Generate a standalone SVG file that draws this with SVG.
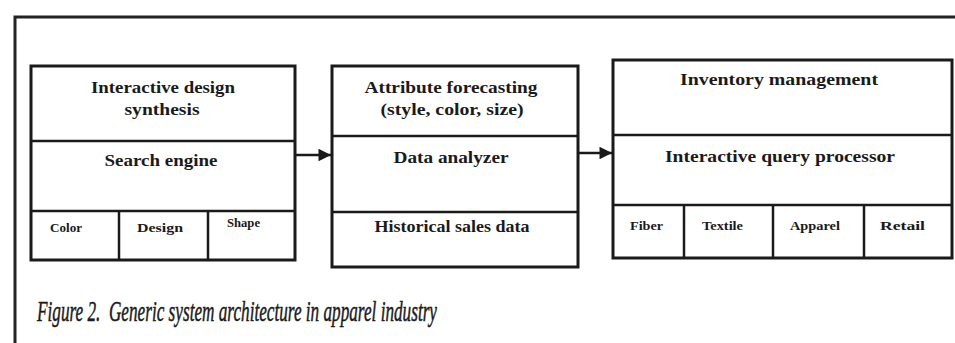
<svg xmlns="http://www.w3.org/2000/svg" width="955" height="343" viewBox="0 0 955 343">
  <style>
    .frame { fill: none; stroke: #222; stroke-width: 3; }
    .box { fill: #fff; stroke: #1a1a1a; stroke-width: 3; }
    .div { stroke: #1a1a1a; stroke-width: 2.5; }
    .lbl { font-family: "Liberation Serif", "Times New Roman", serif; font-weight: bold; font-size: 16px; fill: #1a1a1a; text-anchor: middle; }
    .sm { font-family: "Liberation Serif", "Times New Roman", serif; font-weight: bold; font-size: 12px; fill: #1a1a1a; }
    .cap { font-family: "Liberation Serif", "Times New Roman", serif; font-style: italic; font-size: 30px; fill: #1a1a1a; stroke: #1a1a1a; stroke-width: 0.5; }
    .conn { stroke: #1a1a1a; stroke-width: 2.5; fill: none; }
  </style>
  <defs>
    <marker id="arrow" viewBox="0 0 10 10" refX="10" refY="5" markerWidth="5.5" markerHeight="5" markerUnits="strokeWidth" orient="auto">
      <path d="M0,0 L10,5 L0,10 z" fill="#1a1a1a"/>
    </marker>
  </defs>
  <rect width="955" height="343" fill="#fff"/>

  <!-- page frame -->
  <path class="frame" d="M15,343 V17 H955"/>

  <!-- design synthesis stack -->
  <g id="node-design">
    <rect class="box" x="31" y="66" width="264" height="194"/>
    <line class="div" x1="31" y1="141" x2="295" y2="141"/>
    <line class="div" x1="31" y1="211" x2="295" y2="211"/>
    <line class="div" x1="119" y1="211" x2="119" y2="260"/>
    <line class="div" x1="208" y1="211" x2="208" y2="260"/>
    <text class="lbl" x="163" y="93" textLength="144" lengthAdjust="spacingAndGlyphs">Interactive design</text>
    <text class="lbl" x="162" y="115" textLength="75" lengthAdjust="spacingAndGlyphs">synthesis</text>
    <text class="lbl" x="161" y="166" textLength="113" lengthAdjust="spacingAndGlyphs">Search engine</text>
    <text class="sm" x="50" y="232" textLength="32" lengthAdjust="spacingAndGlyphs">Color</text>
    <text class="sm" x="137" y="232" textLength="46" lengthAdjust="spacingAndGlyphs">Design</text>
    <text class="sm" x="227" y="227" textLength="33" lengthAdjust="spacingAndGlyphs">Shape</text>
  </g>

  <!-- forecasting stack -->
  <g id="node-forecast">
    <rect class="box" x="332" y="66" width="246" height="201"/>
    <line class="div" x1="332" y1="136" x2="578" y2="136"/>
    <line class="div" x1="332" y1="212" x2="578" y2="212"/>
    <text class="lbl" x="451" y="93" textLength="173" lengthAdjust="spacingAndGlyphs">Attribute forecasting</text>
    <text class="lbl" x="452" y="115" textLength="143" lengthAdjust="spacingAndGlyphs">(style, color, size)</text>
    <text class="lbl" x="451" y="163" textLength="115" lengthAdjust="spacingAndGlyphs">Data analyzer</text>
    <text class="lbl" x="452" y="232" textLength="155" lengthAdjust="spacingAndGlyphs">Historical sales data</text>
  </g>

  <!-- inventory stack -->
  <g id="node-inventory">
    <rect class="box" x="613" y="60" width="339" height="198"/>
    <line class="div" x1="613" y1="135" x2="952" y2="135"/>
    <line class="div" x1="613" y1="205" x2="952" y2="205"/>
    <line class="div" x1="684" y1="205" x2="684" y2="258"/>
    <line class="div" x1="773" y1="205" x2="773" y2="258"/>
    <line class="div" x1="864" y1="205" x2="864" y2="258"/>
    <text class="lbl" x="779" y="85" textLength="198" lengthAdjust="spacingAndGlyphs">Inventory management</text>
    <text class="lbl" x="780" y="162" textLength="230" lengthAdjust="spacingAndGlyphs">Interactive query processor</text>
    <text class="sm" x="630" y="230" textLength="33" lengthAdjust="spacingAndGlyphs">Fiber</text>
    <text class="sm" x="702" y="230" textLength="41" lengthAdjust="spacingAndGlyphs">Textile</text>
    <text class="sm" x="790" y="230" textLength="50" lengthAdjust="spacingAndGlyphs">Apparel</text>
    <text class="sm" x="880" y="230" textLength="45" lengthAdjust="spacingAndGlyphs">Retail</text>
  </g>

  <!-- connectors -->
  <g id="connectors">
    <line class="conn" x1="296" y1="155" x2="331" y2="155" marker-end="url(#arrow)"/>
    <line class="conn" x1="579" y1="153" x2="612" y2="153" marker-end="url(#arrow)"/>
  </g>

  <text class="cap" x="37" y="321" textLength="400" lengthAdjust="spacingAndGlyphs" xml:space="preserve">Figure 2.  Generic system architecture in apparel industry</text>
</svg>
